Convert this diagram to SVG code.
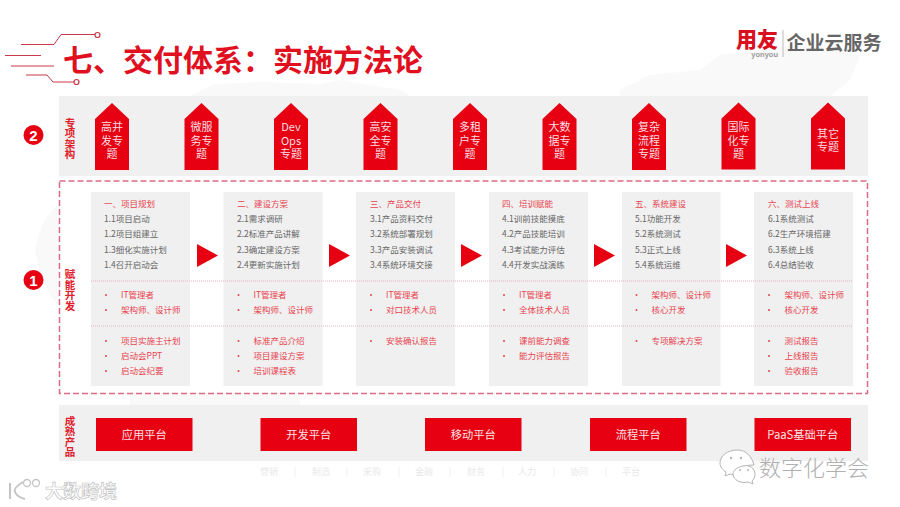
<svg xmlns="http://www.w3.org/2000/svg" width="900" height="507" viewBox="0 0 900 507">
<style>
text{font-family:"Noto Sans CJK SC","Liberation Sans",sans-serif}
.band,.card{fill:#f0f0f0}
.red{fill:#e60012}
.deco{fill:none;stroke:#c8394a;stroke-width:1}
.dot{fill:#fff;stroke:#c8394a;stroke-width:1.2}
.badge{fill:#fbdfe0;font-size:11px;text-anchor:middle}
.side{fill:#e0202c;font-size:10.500px;font-weight:700;text-anchor:middle}
.num{fill:#fff;font-size:15px;font-family:"Liberation Sans",sans-serif;font-weight:700;text-anchor:middle}
.h{fill:#e8434f;font-size:8.5px}
.s{fill:#666;font-size:8.5px}
.r{fill:#e8434f;font-size:8.5px}
.b{fill:#e8434f}
.plat{fill:#fbe3e4;font-size:11.250px;text-anchor:middle}
.faint{fill:#e9e9e9;font-size:9px;text-anchor:middle}
.sep{stroke:#dfb4b9;stroke-width:1;stroke-dasharray:1 1}
.map{fill:#f9f9f9}
</style>
<rect width="900" height="507" fill="#fff"/>
<g id="background-map">
<path class="map" d="M620 90L650 75 700 70 720 55 800 45 860 55 850 80 830 96 620 96Z"/>
<path class="map" d="M190 96L215 84 260 82 320 84 340 80 400 90 410 96Z"/>
<path class="map" d="M35 250Q42 215 59 205L59 305Q42 290 35 250Z"/>
<path class="map" d="M740 461H780V470H750Z"/>
<path class="map" d="M130 393H300V405H130Z"/>
<path class="map" d="M500 176H640V181H500Z"/>
</g>
<g id="title">
<path class="deco" d="M21 44.500H54L61 34.500H95M5 55.500H41M11 66H54M26 75H47L53 82H74"/>
<circle class="dot" cx="97.500" cy="35" r="2.500"/>
<circle class="dot" cx="76.500" cy="82" r="2.500"/>
<text x="63" y="70.500" font-size="30" font-weight="700" fill="#e0101f">七、交付体系&#xFF1A;实施方法论</text>
</g>
<g id="logo">
<text x="736" y="47" font-size="21" font-weight="900" fill="#d8101f" textLength="42" lengthAdjust="spacingAndGlyphs">用友</text>
<text x="778" y="56.500" font-size="7.500" font-weight="700" fill="#999" text-anchor="end" style="font-family:'Liberation Sans',sans-serif">yonyou</text>
<rect x="782.500" y="30" width="1" height="27" fill="#bbb"/>
<text x="786.500" y="49.500" font-size="19" font-weight="700" fill="#666">企业云服务</text>
</g>
<g id="band-top">
<rect class="band" x="59" y="96" width="809" height="80"/>
<text class="side" y="126.500"><tspan x="70">专</tspan><tspan x="70" dy="10.500">项</tspan><tspan x="70" dy="10.500">架</tspan><tspan x="70" dy="10.500">构</tspan></text>
</g>
<g id="marker-2"><circle class="red" cx="33.500" cy="135" r="10"/><text class="num" x="33.500" y="140.500">2</text></g>
<g id="topics">
<g id="topic-1"><path class="red" d="M112 103L129 119V170H95V119Z"/><text class="badge" y="131"><tspan x="112">高并</tspan><tspan x="112" dy="14">发专</tspan><tspan x="112" dy="13">题</tspan></text></g>
<g id="topic-2"><path class="red" d="M201.500 103L218.500 119V170H184.500V119Z"/><text class="badge" y="131"><tspan x="201.500">微服</tspan><tspan x="201.500" dy="14">务专</tspan><tspan x="201.500" dy="13">题</tspan></text></g>
<g id="topic-3"><path class="red" d="M291 103L308 119V170H274V119Z"/><text class="badge" y="131"><tspan x="291">Dev</tspan><tspan x="291" dy="14">Ops</tspan><tspan x="291" dy="13">专题</tspan></text></g>
<g id="topic-4"><path class="red" d="M380.500 103L397.500 119V170H363.500V119Z"/><text class="badge" y="131"><tspan x="380.500">高安</tspan><tspan x="380.500" dy="14">全专</tspan><tspan x="380.500" dy="13">题</tspan></text></g>
<g id="topic-5"><path class="red" d="M470 103L487 119V170H453V119Z"/><text class="badge" y="131"><tspan x="470">多租</tspan><tspan x="470" dy="14">户专</tspan><tspan x="470" dy="13">题</tspan></text></g>
<g id="topic-6"><path class="red" d="M559.500 103L576.500 119V170H542.500V119Z"/><text class="badge" y="131"><tspan x="559.500">大数</tspan><tspan x="559.500" dy="14">据专</tspan><tspan x="559.500" dy="13">题</tspan></text></g>
<g id="topic-7"><path class="red" d="M649 103L666 119V170H632V119Z"/><text class="badge" y="131"><tspan x="649">复杂</tspan><tspan x="649" dy="14">流程</tspan><tspan x="649" dy="13">专题</tspan></text></g>
<g id="topic-8"><path class="red" d="M738.500 102.500L755.500 118.500V169.500H721.500V118.500Z"/><text class="badge" y="130.500"><tspan x="738.500">国际</tspan><tspan x="738.500" dy="14">化专</tspan><tspan x="738.500" dy="13">题</tspan></text></g>
<g id="topic-9"><path class="red" d="M828 102.500L845 118.500V169.500H811V118.500Z"/><text class="badge" y="138"><tspan x="828">其它</tspan><tspan x="828" dy="13">专题</tspan></text></g>
</g>
<g id="enablement">
<rect x="59.500" y="181" width="808" height="212.500" fill="none" stroke="#dc6c82" stroke-width="1.500" stroke-dasharray="6 3"/>
<text class="side" y="278"><tspan x="70">赋</tspan><tspan x="70" dy="10.500">能</tspan><tspan x="70" dy="10.500">开</tspan><tspan x="70" dy="10.500">发</tspan></text>
</g>
<g id="marker-1"><circle class="red" cx="33.500" cy="280" r="10"/><text class="num" x="33.500" y="285.500">1</text></g>
<g id="step-1">
<rect class="card" x="91" y="192" width="99" height="194"/>
<text class="h" x="104" y="207">一、项目规划</text>
<text class="s" x="104" y="222">1.1项目启动</text><text class="s" x="104" y="237">1.2项目组建立</text><text class="s" x="104" y="252.500">1.3细化实施计划</text><text class="s" x="104" y="268">1.4召开启动会</text>
<circle class="b" cx="106" cy="295" r="1"/><text class="r" x="121" y="298">IT管理者</text>
<circle class="b" cx="106" cy="310" r="1"/><text class="r" x="121" y="313">架构师、设计师</text>
<circle class="b" cx="106" cy="341" r="1"/><text class="r" x="121" y="344">项目实施主计划</text>
<circle class="b" cx="106" cy="356" r="1"/><text class="r" x="121" y="359">启动会PPT</text>
<circle class="b" cx="106" cy="371" r="1"/><text class="r" x="121" y="374">启动会纪要</text>
</g>
<g id="step-2">
<rect class="card" x="223.500" y="192" width="99" height="194"/>
<text class="h" x="237" y="207">二、建设方案</text>
<text class="s" x="237" y="222">2.1需求调研</text><text class="s" x="237" y="237">2.2标准产品讲解</text><text class="s" x="237" y="252.500">2.3确定建设方案</text><text class="s" x="237" y="268">2.4更新实施计划</text>
<circle class="b" cx="238.500" cy="295" r="1"/><text class="r" x="253.500" y="298">IT管理者</text>
<circle class="b" cx="238.500" cy="310" r="1"/><text class="r" x="253.500" y="313">架构师、设计师</text>
<circle class="b" cx="238.500" cy="341" r="1"/><text class="r" x="253.500" y="344">标准产品介绍</text>
<circle class="b" cx="238.500" cy="356" r="1"/><text class="r" x="253.500" y="359">项目建设方案</text>
<circle class="b" cx="238.500" cy="371" r="1"/><text class="r" x="253.500" y="374">培训课程表</text>
</g>
<g id="step-3">
<rect class="card" x="356" y="192" width="99" height="194"/>
<text class="h" x="370" y="207">三、产品交付</text>
<text class="s" x="370" y="222">3.1产品资料交付</text><text class="s" x="370" y="237">3.2系统部署规划</text><text class="s" x="370" y="252.500">3.3产品安装调试</text><text class="s" x="370" y="268">3.4系统环境交接</text>
<circle class="b" cx="371" cy="295" r="1"/><text class="r" x="386" y="298">IT管理者</text>
<circle class="b" cx="371" cy="310" r="1"/><text class="r" x="386" y="313">对口技术人员</text>
<circle class="b" cx="371" cy="341" r="1"/><text class="r" x="386" y="344">安装确认报告</text>
</g>
<g id="step-4">
<rect class="card" x="489" y="192" width="99" height="194"/>
<text class="h" x="502" y="207">四、培训赋能</text>
<text class="s" x="502" y="222">4.1训前技能摸底</text><text class="s" x="502" y="237">4.2产品技能培训</text><text class="s" x="502" y="252.500">4.3考试能力评估</text><text class="s" x="502" y="268">4.4开发实战演练</text>
<circle class="b" cx="504" cy="295" r="1"/><text class="r" x="519" y="298">IT管理者</text>
<circle class="b" cx="504" cy="310" r="1"/><text class="r" x="519" y="313">全体技术人员</text>
<circle class="b" cx="504" cy="341" r="1"/><text class="r" x="519" y="344">课前能力调查</text>
<circle class="b" cx="504" cy="356" r="1"/><text class="r" x="519" y="359">能力评估报告</text>
</g>
<g id="step-5">
<rect class="card" x="622" y="192" width="98.500" height="194"/>
<text class="h" x="635" y="207">五、系统建设</text>
<text class="s" x="635" y="222">5.1功能开发</text><text class="s" x="635" y="237">5.2系统测试</text><text class="s" x="635" y="252.500">5.3正式上线</text><text class="s" x="635" y="268">5.4系统运维</text>
<circle class="b" cx="636.500" cy="295" r="1"/><text class="r" x="651.500" y="298">架构师、设计师</text>
<circle class="b" cx="636.500" cy="310" r="1"/><text class="r" x="651.500" y="313">核心开发</text>
<circle class="b" cx="636.500" cy="341" r="1"/><text class="r" x="651.500" y="344">专项解决方案</text>
</g>
<g id="step-6">
<rect class="card" x="754" y="192" width="99" height="194"/>
<text class="h" x="768" y="207">六、测试上线</text>
<text class="s" x="768" y="222">6.1系统测试</text><text class="s" x="768" y="237">6.2生产环境搭建</text><text class="s" x="768" y="252.500">6.3系统上线</text><text class="s" x="768" y="268">6.4总结验收</text>
<circle class="b" cx="769" cy="295" r="1"/><text class="r" x="784.500" y="298">架构师、设计师</text>
<circle class="b" cx="769" cy="310" r="1"/><text class="r" x="784.500" y="313">核心开发</text>
<circle class="b" cx="769" cy="341" r="1"/><text class="r" x="784.500" y="344">测试报告</text>
<circle class="b" cx="769" cy="356" r="1"/><text class="r" x="784.500" y="359">上线报告</text>
<circle class="b" cx="769" cy="371" r="1"/><text class="r" x="784.500" y="374">验收报告</text>
</g>
<g id="connectors">
<path class="sep" d="M91 281H852M91 326H852"/>
<path class="red" d="M197 244L218 255.500L197 267Z"/>
<path class="red" d="M329 244L350 255.500L329 267Z"/>
<path class="red" d="M461 244L482 255.500L461 267Z"/>
<path class="red" d="M594 244L615 255.500L594 267Z"/>
<path class="red" d="M726 244L747 255.500L726 267Z"/>
</g>
<g id="band-bottom">
<rect class="band" x="59" y="405" width="809" height="56"/>
<text class="side" y="424.500"><tspan x="70">成</tspan><tspan x="70" dy="10.500">熟</tspan><tspan x="70" dy="10.500">产</tspan><tspan x="70" dy="10.500">品</tspan></text>
</g>
<g id="platform-1"><rect class="red" x="96" y="418" width="96.500" height="33"/><text class="plat" x="144.300" y="439">应用平台</text></g>
<g id="platform-2"><rect class="red" x="260.500" y="418" width="96.500" height="33"/><text class="plat" x="308.800" y="439">开发平台</text></g>
<g id="platform-3"><rect class="red" x="425" y="418" width="96.500" height="33"/><text class="plat" x="473.300" y="439">移动平台</text></g>
<g id="platform-4"><rect class="red" x="590" y="418" width="96.500" height="33"/><text class="plat" x="638.300" y="439">流程平台</text></g>
<g id="platform-5"><rect class="red" x="754.500" y="418" width="96.500" height="33"/><text class="plat" x="802.800" y="439">PaaS基础平台</text></g>
<g id="industries">
<text class="faint" x="269" y="475">营销</text><text class="faint" x="295" y="475">|</text>
<text class="faint" x="321" y="475">制造</text><text class="faint" x="347" y="475">|</text>
<text class="faint" x="372" y="475">采购</text><text class="faint" x="399" y="475">|</text>
<text class="faint" x="424" y="475">金融</text><text class="faint" x="450" y="475">|</text>
<text class="faint" x="476" y="475">财务</text><text class="faint" x="503" y="475">|</text>
<text class="faint" x="527" y="475">人力</text><text class="faint" x="554" y="475">|</text>
<text class="faint" x="579" y="475">协同</text><text class="faint" x="606" y="475">|</text>
<text class="faint" x="631" y="475">平台</text>
</g>
<g id="watermark-left" fill="none" stroke="#c4c4c4" stroke-width="1.300">
<path d="M10 483V499M23 482Q13 488 15 492Q17 497 25 499" stroke-width="2"/>
<circle cx="27" cy="483" r="3.500"/><circle cx="36" cy="483" r="3.500"/>
<text x="45" y="498" font-size="18" font-weight="700" fill="#fff" stroke="#c4c4c4" stroke-width=".7">大数跨境</text>
</g>
<g id="watermark-right">
<path d="M738 450C727 450 720 456 720 463C720 467 723 470 726 472L725 476L730 474L734 475C736 469 742 465 754 465C752 457 746 450 738 450Z" fill="#fff" stroke="#b5b5b5" stroke-width="1"/>
<path d="M743 466C750 464 755 469 755 474C755 478 753 480 752 481L753 484L748 482C741 484 733 480 733 474C733 470 738 467 743 466Z" fill="#fff" stroke="#b5b5b5" stroke-width="1"/>
<circle cx="731" cy="458" r="1.200" fill="#b5b5b5"/><circle cx="741" cy="458" r="1.200" fill="#b5b5b5"/><circle cx="740" cy="470" r="1" fill="#b5b5b5"/><circle cx="748" cy="470" r="1" fill="#b5b5b5"/>
<text x="759" y="476" font-size="22" font-weight="300" fill="#b0b0b0">数字化学会</text>
</g>
</svg>
